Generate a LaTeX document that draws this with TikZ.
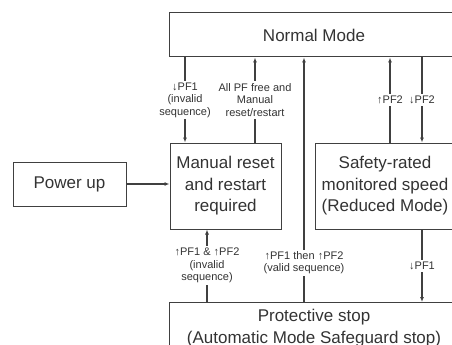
\documentclass[tikz,border=0pt]{standalone}
\usepackage{fontspec}
\setmainfont{Liberation Sans}
\usetikzlibrary{arrows.meta}
\tikzset{
  modebox/.style={draw=black!75, line width=1pt, text=black!80, align=center,
    font=\fontsize{17}{21.5}\selectfont, inner sep=0pt},
  arr/.style={draw=black!75, line width=1.1pt, -{Latex[length=5pt,width=4pt]}},
  lbl/.style={fill=white, text=black!80, align=center, inner xsep=1pt, inner ysep=2pt,
    font=\fontsize{11}{12.5}\selectfont}
}
\begin{document}
\begin{tikzpicture}[x=1pt, y=-1pt]

    % Rahmen der Seite
    \useasboundingbox (0,0) rectangle (452,345);
    \clip (0,0) rectangle (452,345);

    % Zustaende
    \node[modebox, minimum width=290, minimum height=44] (normal) at (314,35) {Normal Mode};
    \node[modebox, minimum width=111, minimum height=86] (manual) at (225.5,186) {Manual reset\\and restart\\required};
    \node[modebox, minimum width=113, minimum height=44] (power) at (69.5,184) {Power up};
    \node[modebox, minimum width=140, minimum height=86] (safety) at (385,186) {Safety-rated\\monitored speed\\(Reduced Mode)};
    \node[modebox, minimum width=290, anchor=north, inner ysep=7pt] (prot) at (314,302) {Protective stop\\(Automatic Mode Safeguard stop)};

    % Spuren der Uebergaenge
    \coordinate (xa) at (185,0); % Normal -> Manual
    \coordinate (xb) at (255,0); % Manual -> Normal
    \coordinate (xc) at (304,0); % Protective -> Normal
    \coordinate (xd) at (390,0); % Safety -> Normal
    \coordinate (xe) at (422,0); % Normal -> Safety, Safety -> Protective
    \coordinate (xf) at (207,0); % Protective -> Manual

    % Uebergaenge
    \draw[arr] (power.east) -- (manual.west |- power.east);
    \draw[arr] (normal.south -| xa) -- node[lbl] {↓PF1\\(invalid\\sequence)} (manual.north -| xa);
    \draw[arr] (manual.north -| xb) -- node[lbl] {All PF free and\\Manual\\reset/restart} (normal.south -| xb);
    \draw[arr] (prot.north -| xc) -- node[lbl, pos=0.16] {↑PF1 then ↑PF2\\(valid sequence)} (normal.south -| xc);
    \draw[arr] (safety.north -| xd) -- node[lbl] {↑PF2} (normal.south -| xd);
    \draw[arr] (normal.south -| xe) -- node[lbl] {↓PF2} (safety.north -| xe);
    \draw[arr] (prot.north -| xf) -- node[lbl] {↑PF1 \& ↑PF2\\(invalid\\sequence)} (manual.south -| xf);
    \draw[arr] (safety.south -| xe) -- node[lbl] {↓PF1} (prot.north -| xe);

\end{tikzpicture}
\end{document}
